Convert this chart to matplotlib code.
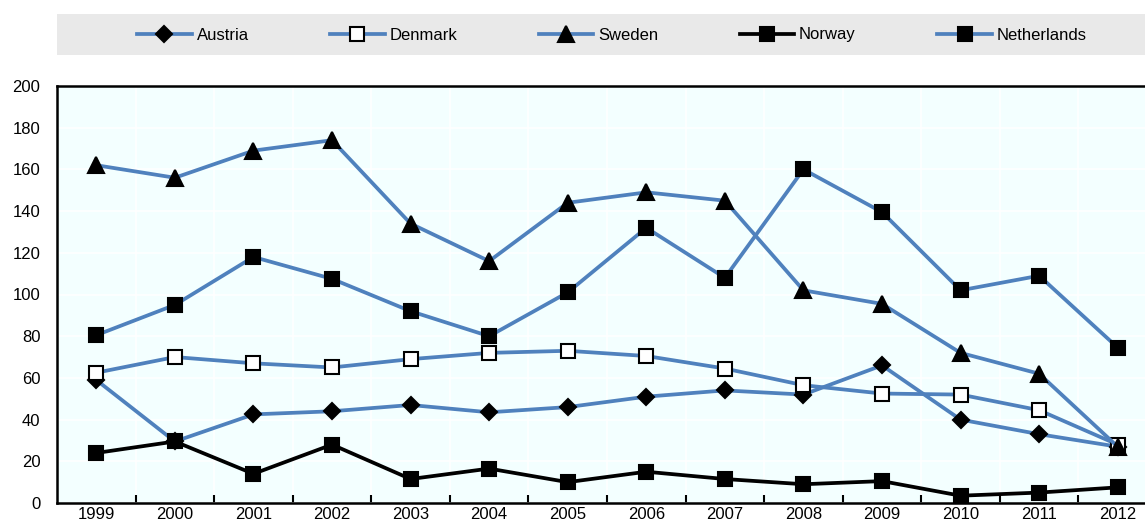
import matplotlib

matplotlib.use("Agg")
import matplotlib.pyplot as plt
from matplotlib.patches import Rectangle
from matplotlib.ticker import FixedLocator

years = ["1999", "2000", "2001", "2002", "2003", "2004", "2005",
         "2006", "2007", "2008", "2009", "2010", "2011", "2012"]
austria = [59, 29.5, 42.5, 44, 47, 43.5, 46, 51, 54, 52, 66, 40, 33, 27]
denmark = [62.5, 70, 67, 65, 69, 72, 73, 70.5, 64.5, 56.5, 52.5, 52, 44.5, 28]
sweden = [162, 156, 169, 174, 134, 116, 144, 149, 145, 102, 95.5, 72, 62, 27]
norway = [24, 29.5, 14, 28, 11.5, 16.5, 10, 15, 11.5, 9, 10.5, 3.5, 5, 7.5]
netherlands = [80.5, 95, 118, 107.5, 92, 80, 101, 132, 108, 160, 139.5, 102, 109, 74.5]

BLUE = "#4F81BD"
W, H = 1145, 527

plt.rcParams["font.family"] = ["Liberation Sans", "DejaVu Sans"]

fig = plt.figure(figsize=(W / 100, H / 100), dpi=100)
ax = fig.add_axes([57 / W, (H - 503) / H, 1100 / W, (503 - 86) / H])
ax.set_facecolor("#F3FFFF")

x = list(range(len(years)))
series = [
    ("Austria", austria, BLUE, dict(marker="D", markersize=8, markerfacecolor="black")),
    ("Denmark", denmark, BLUE, dict(marker="s", markersize=10, markerfacecolor="white")),
    ("Sweden", sweden, BLUE, dict(marker="^", markersize=11, markerfacecolor="black")),
    ("Norway", norway, "black", dict(marker="s", markersize=10, markerfacecolor="black")),
    ("Netherlands", netherlands, BLUE, dict(marker="s", markersize=10, markerfacecolor="black")),
]
handles = []
for name, vals, col, mk in series:
    (ln,) = ax.plot(x, vals, color=col, linewidth=2.7, markeredgecolor="black",
                    markeredgewidth=1.5, label=name, zorder=3, clip_on=False, **mk)
    handles.append(ln)

ax.set_xlim(-0.5, len(years) - 0.5)
ax.set_ylim(0, 200)
ax.set_yticks(range(0, 201, 20))
ax.set_xticks(x)
ax.set_xticklabels(years)
ax.xaxis.set_minor_locator(FixedLocator([i + 0.5 for i in range(len(years) - 1)]))

ax.tick_params(axis="y", length=0, pad=12, labelsize=12)
ax.tick_params(axis="x", which="major", length=0, pad=3, labelsize=12)
ax.tick_params(axis="x", which="minor", direction="in", length=6, width=1.5, color="black")

ax.grid(axis="y", color="white", linewidth=1.2, zorder=0)
ax.grid(axis="x", which="minor", color="white", linewidth=1.2, zorder=0)
ax.set_axisbelow(True)

for side in ("left", "bottom", "top"):
    ax.spines[side].set_linewidth(1.8)
    ax.spines[side].set_color("black")
ax.spines["right"].set_visible(False)

# gray legend band
fig.patches.append(Rectangle((57 / W, (H - 55) / H), (W - 57) / W, 41 / H,
                             transform=fig.transFigure, facecolor="#E9E9E9",
                             edgecolor="none", zorder=0))
fig.legend(handles=handles, loc="center", bbox_to_anchor=(612 / W, (H - 35) / H),
           ncol=5, frameon=False, fontsize=12, handlelength=3.25,
           handletextpad=0.3, columnspacing=4.9, borderpad=0)

fig.savefig("out.png", dpi=100)
